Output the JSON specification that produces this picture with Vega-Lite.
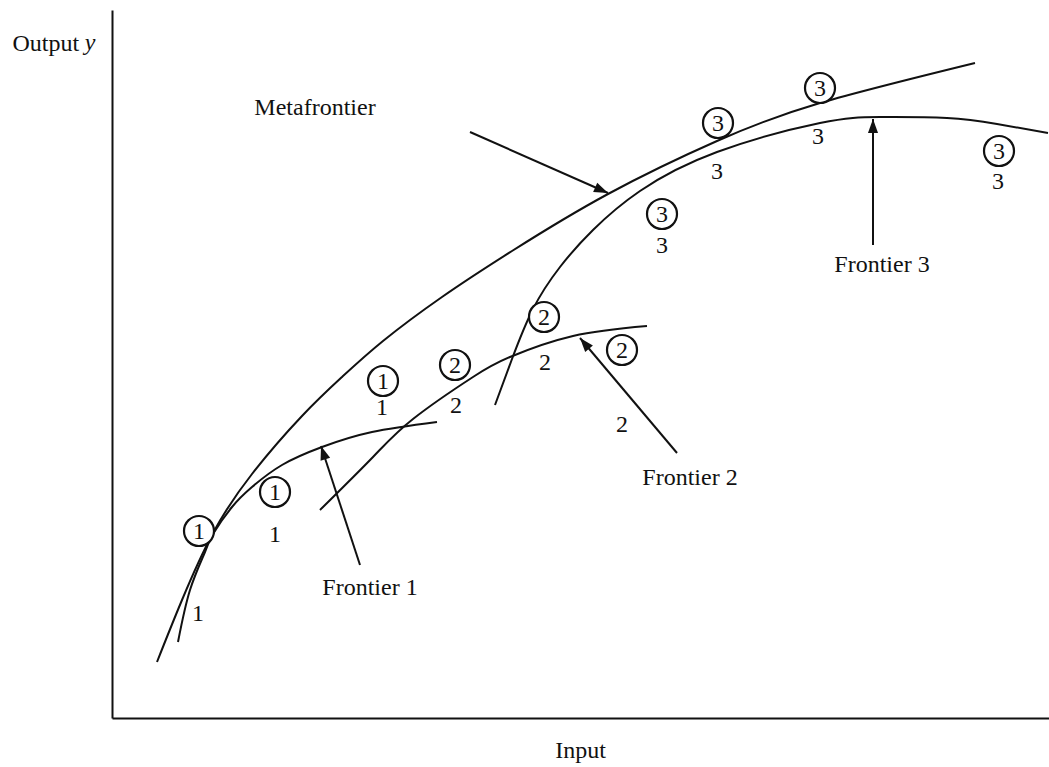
{
  "$schema": "https://vega.github.io/schema/vega-lite/v6.json",
  "width": 937,
  "height": 708,
  "autosize": {"type": "none"},
  "padding": {"left": 112, "top": 10, "right": 0, "bottom": 49},
  "background": "white",
  "config": {"view": {"stroke": null}, "font": "Liberation Serif"},
  "datasets": {
    "curves": [
      {"curve": "Metafrontier", "x": 45, "y": 56},
      {"curve": "Metafrontier", "x": 70, "y": 118},
      {"curve": "Metafrontier", "x": 101, "y": 185},
      {"curve": "Metafrontier", "x": 140, "y": 244},
      {"curve": "Metafrontier", "x": 190, "y": 302},
      {"curve": "Metafrontier", "x": 230, "y": 341},
      {"curve": "Metafrontier", "x": 271, "y": 377},
      {"curve": "Metafrontier", "x": 330, "y": 421},
      {"curve": "Metafrontier", "x": 400, "y": 467},
      {"curve": "Metafrontier", "x": 496, "y": 524},
      {"curve": "Metafrontier", "x": 605, "y": 577},
      {"curve": "Metafrontier", "x": 708, "y": 615},
      {"curve": "Metafrontier", "x": 863, "y": 655},
      {"curve": "Frontier 1", "x": 66, "y": 76},
      {"curve": "Frontier 1", "x": 78, "y": 128},
      {"curve": "Frontier 1", "x": 93, "y": 166},
      {"curve": "Frontier 1", "x": 101, "y": 184},
      {"curve": "Frontier 1", "x": 120, "y": 211},
      {"curve": "Frontier 1", "x": 140, "y": 231},
      {"curve": "Frontier 1", "x": 170, "y": 253},
      {"curve": "Frontier 1", "x": 210, "y": 271},
      {"curve": "Frontier 1", "x": 260, "y": 286},
      {"curve": "Frontier 1", "x": 325, "y": 296},
      {"curve": "Frontier 2", "x": 208, "y": 208},
      {"curve": "Frontier 2", "x": 261, "y": 261},
      {"curve": "Frontier 2", "x": 301, "y": 299},
      {"curve": "Frontier 2", "x": 361, "y": 341},
      {"curve": "Frontier 2", "x": 398, "y": 361},
      {"curve": "Frontier 2", "x": 461, "y": 382},
      {"curve": "Frontier 2", "x": 535, "y": 392},
      {"curve": "Frontier 3", "x": 383, "y": 313},
      {"curve": "Frontier 3", "x": 400, "y": 359},
      {"curve": "Frontier 3", "x": 421, "y": 409},
      {"curve": "Frontier 3", "x": 448, "y": 451},
      {"curve": "Frontier 3", "x": 481, "y": 488},
      {"curve": "Frontier 3", "x": 528, "y": 527},
      {"curve": "Frontier 3", "x": 605, "y": 566},
      {"curve": "Frontier 3", "x": 708, "y": 595},
      {"curve": "Frontier 3", "x": 768, "y": 601},
      {"curve": "Frontier 3", "x": 835, "y": 600},
      {"curve": "Frontier 3", "x": 885, "y": 594},
      {"curve": "Frontier 3", "x": 936, "y": 585}
    ],
    "circled": [
      {"x": 87, "y": 187, "t": "1"},
      {"x": 163, "y": 226, "t": "1"},
      {"x": 271, "y": 337, "t": "1"},
      {"x": 343, "y": 353, "t": "2"},
      {"x": 432, "y": 401, "t": "2"},
      {"x": 510, "y": 368, "t": "2"},
      {"x": 550, "y": 504, "t": "3"},
      {"x": 606, "y": 595, "t": "3"},
      {"x": 708, "y": 630, "t": "3"},
      {"x": 887, "y": 567, "t": "3"}
    ],
    "plain": [
      {"x": 86, "y": 104, "t": "1"},
      {"x": 163, "y": 183, "t": "1"},
      {"x": 270, "y": 310, "t": "1"},
      {"x": 344, "y": 312, "t": "2"},
      {"x": 433, "y": 355, "t": "2"},
      {"x": 510, "y": 293, "t": "2"},
      {"x": 550, "y": 472, "t": "3"},
      {"x": 605, "y": 546, "t": "3"},
      {"x": 706, "y": 581, "t": "3"},
      {"x": 886, "y": 536, "t": "3"}
    ],
    "arrows": [
      {"name": "Metafrontier", "x": 358, "y": 586, "x2": 496, "y2": 525},
      {"name": "Frontier 1", "x": 248, "y": 153, "x2": 209, "y2": 272},
      {"name": "Frontier 2", "x": 565, "y": 265, "x2": 468, "y2": 380},
      {"name": "Frontier 3", "x": 761, "y": 473, "x2": 761, "y2": 599}
    ],
    "notes": [
      {"x": 203, "y": 610, "t": "Metafrontier"},
      {"x": 258, "y": 130, "t": "Frontier 1"},
      {"x": 578, "y": 240, "t": "Frontier 2"},
      {"x": 770, "y": 453, "t": "Frontier 3"}
    ]
  },
  "layer": [
    {
      "data": {"name": "curves"},
      "mark": {"type": "line", "interpolate": "natural", "color": "#111111", "strokeWidth": 2},
      "encoding": {
        "x": {
          "field": "x", "type": "quantitative",
          "scale": {"domain": [0, 937], "nice": false, "zero": false},
          "axis": {
            "title": "Input", "domain": true, "domainColor": "#111111", "domainWidth": 2,
            "ticks": false, "labels": false, "grid": false,
            "titleFont": "Liberation Serif", "titleFontSize": 24, "titleFontWeight": "normal",
            "titleColor": "#111111", "titleX": 468, "titleY": 32, "titleBaseline": "middle", "titleAlign": "center"
          }
        },
        "y": {
          "field": "y", "type": "quantitative",
          "scale": {"domain": [0, 708], "nice": false, "zero": false},
          "axis": {
            "title": "Output", "domain": true, "domainColor": "#111111", "domainWidth": 2,
            "ticks": false, "labels": false, "grid": false,
            "titleFont": "Liberation Serif", "titleFontSize": 24, "titleFontWeight": "normal",
            "titleColor": "#111111", "titleAngle": 0, "titleAlign": "left",
            "titleX": -100, "titleY": 33, "titleBaseline": "middle"
          }
        },
        "detail": {"field": "curve", "type": "nominal"}
      }
    },
    {
      "data": {"name": "arrows"},
      "mark": {"type": "rule", "color": "#111111", "strokeWidth": 2},
      "encoding": {
        "x": {"field": "x", "type": "quantitative"},
        "y": {"field": "y", "type": "quantitative"},
        "x2": {"field": "x2"},
        "y2": {"field": "y2"}
      }
    },
    {
      "data": {"name": "arrows"},
      "transform": [{"calculate": "atan2(datum.x2 - datum.x, datum.y2 - datum.y) * 180 / PI", "as": "ang"}],
      "mark": {"type": "point", "shape": "M0,0L-0.36,1L0.36,1Z", "filled": true, "color": "#111111", "opacity": 1, "size": 784, "strokeWidth": 0},
      "encoding": {
        "x": {"field": "x2", "type": "quantitative"},
        "y": {"field": "y2", "type": "quantitative"},
        "angle": {"field": "ang", "type": "quantitative", "scale": null}
      }
    },
    {
      "data": {"name": "circled"},
      "mark": {"type": "point", "shape": "circle", "filled": true, "fill": "white", "stroke": "#111111", "strokeWidth": 2.2, "opacity": 1, "size": 900},
      "encoding": {
        "x": {"field": "x", "type": "quantitative"},
        "y": {"field": "y", "type": "quantitative"}
      }
    },
    {
      "data": {"name": "circled"},
      "mark": {"type": "text", "font": "Liberation Serif", "fontSize": 24, "color": "#111111", "baseline": "middle", "align": "center", "dy": 1},
      "encoding": {
        "x": {"field": "x", "type": "quantitative"},
        "y": {"field": "y", "type": "quantitative"},
        "text": {"field": "t"}
      }
    },
    {
      "data": {"name": "plain"},
      "mark": {"type": "text", "font": "Liberation Serif", "fontSize": 24, "color": "#111111", "baseline": "middle", "align": "center"},
      "encoding": {
        "x": {"field": "x", "type": "quantitative"},
        "y": {"field": "y", "type": "quantitative"},
        "text": {"field": "t"}
      }
    },
    {
      "data": {"name": "notes"},
      "mark": {"type": "text", "font": "Liberation Serif", "fontSize": 24, "color": "#111111", "baseline": "middle", "align": "center"},
      "encoding": {
        "x": {"field": "x", "type": "quantitative"},
        "y": {"field": "y", "type": "quantitative"},
        "text": {"field": "t"}
      }
    },
    {
      "data": {"values": [{"x": -22, "y": 675, "t": "y"}]},
      "mark": {"type": "text", "font": "Liberation Serif", "fontSize": 24, "fontStyle": "italic", "color": "#111111", "baseline": "middle", "align": "center"},
      "encoding": {
        "x": {"field": "x", "type": "quantitative"},
        "y": {"field": "y", "type": "quantitative"},
        "text": {"field": "t"}
      }
    }
  ]
}
